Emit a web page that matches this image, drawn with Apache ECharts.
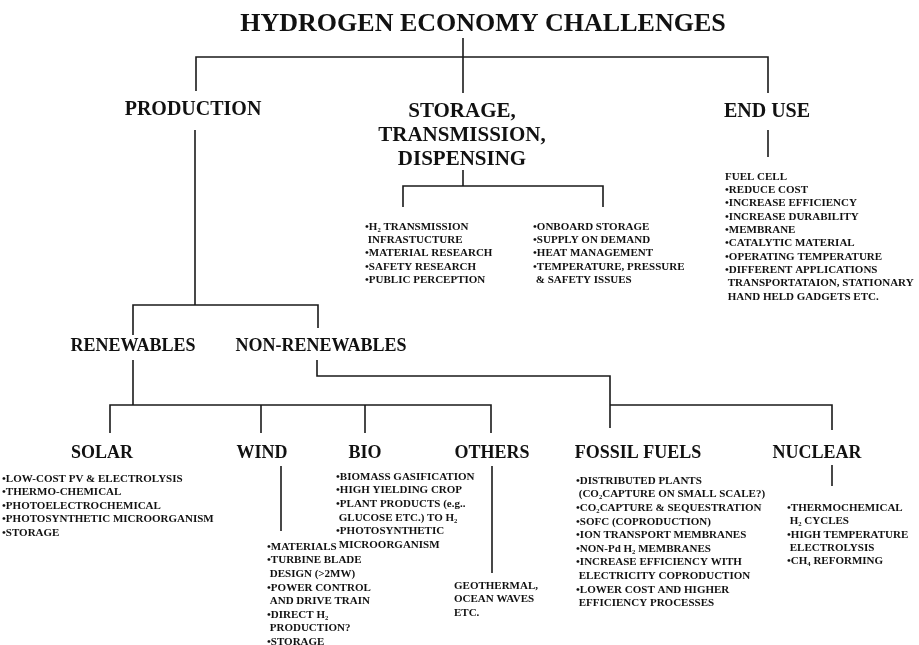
<!DOCTYPE html>
<html>
<head>
<meta charset="utf-8">
<script src="https://cdn.jsdelivr.net/npm/echarts@6/dist/echarts.min.js"></script>
<style>html,body{margin:0;padding:0;background:#fff}#c{width:919px;height:645px}</style>
</head>
<body>
<div id="c"></div>
<script>
// ---- content (text) ----
const title = 'HYDROGEN ECONOMY CHALLENGES';
const level1 = ['PRODUCTION', 'STORAGE,\nTRANSMISSION,\nDISPENSING', 'END USE'];
const level2 = ['RENEWABLES', 'NON-RENEWABLES'];
const sources = ['SOLAR', 'WIND', 'BIO', 'OTHERS', 'FOSSIL FUELS', 'NUCLEAR'];
const transmissionNotes = ['•H₂ TRANSMISSION', ' INFRASTUCTURE', '•MATERIAL RESEARCH', '•SAFETY RESEARCH', '•PUBLIC PERCEPTION'];
const storageNotes = ['•ONBOARD STORAGE', '•SUPPLY ON DEMAND', '•HEAT MANAGEMENT', '•TEMPERATURE, PRESSURE', ' & SAFETY ISSUES'];
const endUseNotes = ['FUEL CELL', '•REDUCE COST', '•INCREASE EFFICIENCY', '•INCREASE DURABILITY', '•MEMBRANE', '•CATALYTIC MATERIAL', '•OPERATING TEMPERATURE', '•DIFFERENT APPLICATIONS', ' TRANSPORTATAION, STATIONARY', ' HAND HELD GADGETS ETC.'];
const solarNotes = ['•LOW-COST PV & ELECTROLYSIS', '•THERMO-CHEMICAL', '•PHOTOELECTROCHEMICAL', '•PHOTOSYNTHETIC MICROORGANISM', '•STORAGE'];
const windNotes = ['•MATERIALS', '•TURBINE BLADE', ' DESIGN (>2MW)', '•POWER CONTROL', ' AND DRIVE TRAIN', '•DIRECT H₂', ' PRODUCTION?', '•STORAGE'];
const bioNotes = ['•BIOMASS GASIFICATION', '•HIGH YIELDING CROP', '•PLANT PRODUCTS (e.g..', ' GLUCOSE ETC.) TO H₂', '•PHOTOSYNTHETIC', ' MICROORGANISM'];
const othersNotes = ['GEOTHERMAL,', 'OCEAN WAVES', 'ETC.'];
const fossilNotes = ['•DISTRIBUTED PLANTS', ' (CO₂CAPTURE ON SMALL SCALE?)', '•CO₂CAPTURE & SEQUESTRATION', '•SOFC (COPRODUCTION)', '•ION TRANSPORT MEMBRANES', '•NON-Pd H₂ MEMBRANES', '•INCREASE EFFICIENCY WITH', ' ELECTRICITY COPRODUCTION', '•LOWER COST AND HIGHER', ' EFFICIENCY PROCESSES'];
const nuclearNotes = ['•THERMOCHEMICAL', ' H₂ CYCLES', '•HIGH TEMPERATURE', ' ELECTROLYSIS', '•CH₄ REFORMING'];

// ---- layout (diagram positions in the hidden plane) ----
const FONT = '"Liberation Serif", "Times New Roman", serif';
const items = [];
function head(text, x, y, size, lh) {
  items.push({kind: 'text', at: [x, y], text: text, size: size, align: 'center', lh: lh || size * 1.15, va: lh ? 'top' : 'middle'});
}
function block(lines, x, y, lh) {
  items.push({kind: 'text', at: [x, y - lh / 2], text: lines.join('\n'), size: 11, align: 'left', lh: lh, va: 'top'});
}
function link(pts) { items.push({kind: 'line', pts: pts}); }

head(title, 483, 24, 26);
link([[463, 38], [463, 57]]);
link([[196, 91], [196, 57], [768, 57], [768, 93]]);
link([[463, 57], [463, 93]]);

head(level1[0], 193, 110, 20);
head(level1[1], 462, 112 - 11.85, 21, 23.7);
head(level1[2], 767, 112, 20);

// production branch
link([[195, 130], [195, 305]]);
link([[133, 335], [133, 305], [318, 305], [318, 328]]);
head(level2[0], 133, 346, 18);
head(level2[1], 321, 346, 18);
link([[133, 360], [133, 405]]);
link([[110, 433], [110, 405], [491, 405], [491, 433]]);
link([[261, 405], [261, 433]]);
link([[365, 405], [365, 433]]);
link([[317, 360], [317, 376], [610, 376], [610, 428]]);
link([[610, 405], [832, 405], [832, 430]]);

// storage branch
link([[463, 170], [463, 186]]);
link([[403, 207], [403, 186], [603, 186], [603, 207]]);
block(transmissionNotes, 365, 227, 13.3);
block(storageNotes, 533, 227, 13.3);

// end use branch
link([[768, 130], [768, 157]]);
block(endUseNotes, 725, 177, 13.3);

// sources
const srcX = [102, 262, 365, 492, 638, 817];
sources.forEach((s, i) => head(s, srcX[i], 453.5, 18));
block(solarNotes, 2, 479, 13.5);
link([[281, 466], [281, 531]]);
block(windNotes, 267, 547, 13.6);
block(bioNotes, 336, 477, 13.6);
link([[492, 466], [492, 573]]);
block(othersNotes, 454, 586, 13.5);
block(fossilNotes, 576, 481, 13.6);
link([[832, 465], [832, 486]]);
block(nuclearNotes, 787, 508, 13.4);

const chart = echarts.init(document.getElementById('c'), null, {renderer: 'canvas'});
chart.setOption({
  animation: false,
  backgroundColor: '#ffffff',
  grid: {left: 0, right: 0, top: 0, bottom: 0},
  xAxis: {type: 'value', min: 0, max: 919, show: false},
  yAxis: {type: 'value', min: 0, max: 645, inverse: true, show: false},
  series: [{
    type: 'custom',
    coordinateSystem: 'cartesian2d',
    silent: true,
    clip: false,
    data: items.map((d, i) => { const p = d.kind === 'text' ? d.at : d.pts[0]; return [p[0], p[1], i]; }),
    renderItem: function (params, api) {
      const it = items[params.dataIndex];
      if (it.kind === 'line') {
        return {
          type: 'polyline',
          shape: {points: it.pts.map(p => api.coord(p))},
          style: {stroke: '#1a1a1a', lineWidth: 1.6, fill: null}
        };
      }
      const p = api.coord(it.at);
      return {
        type: 'text', x: p[0], y: p[1],
        style: {
          text: it.text, fill: '#111', font: 'bold ' + it.size + 'px ' + FONT,
          align: it.align, verticalAlign: it.va, lineHeight: it.lh
        }
      };
    }
  }]
});
</script>
</body>
</html>
